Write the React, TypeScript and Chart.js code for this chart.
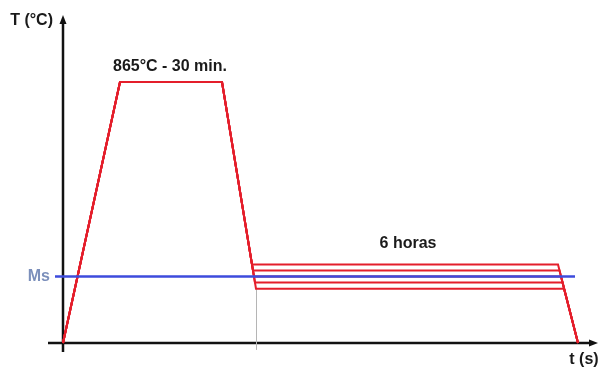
import React, { useEffect, useRef } from "react";
import { Chart, registerables } from "chart.js";

Chart.register(...registerables);

// Time is in arbitrary units (no ticks are shown), temperature in °C.
const AUSTENITIZE_TEMP = 865;
const HEAT_END = 57;
const HOLD_END = 159;
const MS_TEMP = 220;

// Isothermal hold levels: quench arrival time, temperature, end of hold.
const QUENCH_TIMES = [189, 190, 191, 192, 193];
const HOLD_TEMPS = [260, 240, 220, 200, 180];
const HOLD_ENDS = [495, 496.5, 498, 499.5, 501];
const COOL_END = 515;

// Ms line and the marker at the end of the quench
const MS_START = -8;
const MS_END = 512;
const MARKER_TIME = 193.5;
const MARKER_TOP = 180;
const MARKER_BOTTOM = -22;

// Axis extents
const X_MIN = -15;
const X_MAX = 537;
const Y_MIN = -30;
const Y_MAX = 1087;
const X_AXIS_END = 535;

const LABELS = [
  { text: "T (°C)", t: -10, T: 1070, align: "right", color: "#1a1a1a" },
  { text: "865°C - 30 min.", t: 107, T: 917, align: "center", color: "#1a1a1a" },
  { text: "6 horas", t: 345, T: 328, align: "center", color: "#1a1a1a" },
  { text: "Ms", t: -13, T: 220, align: "right", color: "#7b8fbb" },
  { text: "t (s)", t: 521, T: -56, align: "center", color: "#1a1a1a" },
];

const RED = "#e41e2b";
const BLUE = "#3d4bdc";

const axesPlugin = {
  id: "arrowAxes",
  beforeDatasetsDraw(chart: any) {
    const { ctx, scales } = chart;
    const x = scales.x;
    const y = scales.y;
    const x0 = x.getPixelForValue(0);
    const y0 = y.getPixelForValue(0);
    const xL = x.getPixelForValue(X_MIN);
    const xR = x.getPixelForValue(X_AXIS_END);
    const yT = y.getPixelForValue(Y_MAX);
    const yB = y.getPixelForValue(Y_MIN);
    ctx.save();
    ctx.strokeStyle = "#111";
    ctx.fillStyle = "#111";
    ctx.lineWidth = 2.5;
    ctx.beginPath();
    ctx.moveTo(x0, yB);
    ctx.lineTo(x0, yT + 6);
    ctx.moveTo(xL, y0);
    ctx.lineTo(xR - 6, y0);
    ctx.stroke();
    ctx.beginPath();
    ctx.moveTo(x0, yT);
    ctx.lineTo(x0 - 3.5, yT + 9);
    ctx.lineTo(x0 + 3.5, yT + 9);
    ctx.closePath();
    ctx.fill();
    ctx.beginPath();
    ctx.moveTo(xR, y0);
    ctx.lineTo(xR - 9, y0 - 3.5);
    ctx.lineTo(xR - 9, y0 + 3.5);
    ctx.closePath();
    ctx.fill();
    ctx.restore();
  },
  afterDraw(chart: any) {
    const { ctx, scales } = chart;
    ctx.save();
    ctx.font = 'bold 16px "Liberation Sans", Arial, sans-serif';
    ctx.textBaseline = "middle";
    for (const l of LABELS) {
      ctx.fillStyle = l.color;
      ctx.textAlign = l.align as CanvasTextAlign;
      ctx.fillText(l.text, scales.x.getPixelForValue(l.t), scales.y.getPixelForValue(l.T));
    }
    ctx.restore();
  },
};

export default function App() {
  const canvasRef = useRef<HTMLCanvasElement | null>(null);

  useEffect(() => {
    if (!canvasRef.current) return;

    const cycles = HOLD_TEMPS.map((temp, i) => ({
      data: [
        { x: 0, y: 0 },
        { x: HEAT_END, y: AUSTENITIZE_TEMP },
        { x: HOLD_END, y: AUSTENITIZE_TEMP },
        { x: QUENCH_TIMES[i], y: temp },
        { x: HOLD_ENDS[i], y: temp },
        { x: COOL_END, y: 0 },
      ],
      borderColor: RED,
      borderWidth: 2,
      order: 2,
    }));

    const chart = new Chart(canvasRef.current, {
      type: "scatter",
      data: {
        datasets: [
          {
            data: [
              { x: MS_START, y: MS_TEMP },
              { x: MS_END, y: MS_TEMP },
            ],
            borderColor: BLUE,
            borderWidth: 2.5,
            order: 1,
          },
          ...cycles,
          {
            data: [
              { x: MARKER_TIME, y: MARKER_TOP },
              { x: MARKER_TIME, y: MARKER_BOTTOM },
            ],
            borderColor: "#b5b5b5",
            borderWidth: 1,
            order: 3,
          },
        ] as any,
      },
      options: {
        responsive: false,
        animation: false,
        devicePixelRatio: 1,
        showLine: true,
        elements: {
          point: { radius: 0, hoverRadius: 0 },
          line: { tension: 0, borderJoinStyle: "miter" },
        },
        layout: { padding: { left: 48, right: 1, top: 15, bottom: 17 } },
        scales: {
          x: { type: "linear", min: X_MIN, max: X_MAX, display: false },
          y: { type: "linear", min: Y_MIN, max: Y_MAX, display: false },
        },
        plugins: {
          legend: { display: false },
          tooltip: { enabled: false },
        },
      } as any,
      plugins: [axesPlugin],
    });

    return () => chart.destroy();
  }, []);

  return (
    <div style={{ position: "fixed", left: 0, top: 0, width: 601, height: 369, background: "#fff" }}>
      <canvas ref={canvasRef} width={601} height={369} />
    </div>
  );
}
